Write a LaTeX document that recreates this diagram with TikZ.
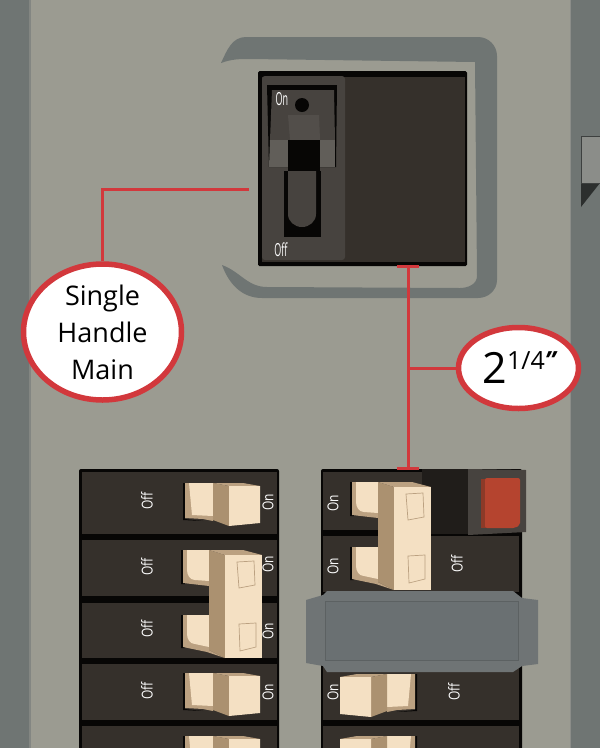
\documentclass[tikz,border=0pt]{standalone}
\usepackage{fontspec}
\setmainfont{Open Sans}
\usetikzlibrary{shapes.geometric}

\definecolor{panelGray}{HTML}{9B9B91}
\definecolor{stripGray}{HTML}{6F7573}
\definecolor{boxGray}{HTML}{8B8D89}
\definecolor{breakerBrown}{HTML}{35302B}
\definecolor{padBrown}{HTML}{47433F}
\definecolor{padLight}{HTML}{615E59}
\definecolor{nearBlack}{HTML}{070605}
\definecolor{creamFace}{HTML}{F4E0C3}
\definecolor{tanSide}{HTML}{AB9170}
\definecolor{tanEdge}{HTML}{BBA181}
\definecolor{calloutRed}{HTML}{D2383C}
\definecolor{lampRed}{HTML}{B5442F}
\definecolor{lampShade}{HTML}{8C3A28}
\definecolor{plateGray}{HTML}{6F7475}
\definecolor{plateInner}{HTML}{6A7072}
\definecolor{plateEdge}{HTML}{5C6162}

\tikzset{
  calloutline/.style={draw=calloutRed, line width=3pt},
  callout/.style={ellipse, draw=calloutRed, fill=white, line width=5.5pt, inner sep=0pt, align=center},
  breakerlabel/.style={text=white, font=\fontsize{15}{15}\selectfont, inner sep=0pt, rotate=90, xscale=.8},
  facelabel/.style={text=white, font=\fontsize{18}{18}\selectfont, inner sep=0pt, xscale=.5},
  singletoggle/.pic={
    \fill[nearBlack] (-2,0) -- (0,0) -- (0,36) -- (18,38) -- (-2,37) -- cycle;
    \fill[tanEdge] (0,0) -- (28,0) -- (28,38) -- (18,36) -- (0,35) -- cycle;
    \fill[creamFace] (4,0) -- (28,0) -- (28,33) -- (7,32) -- cycle;
    \fill[tanSide] (28,0) -- (44,3) -- (44,43) -- (28,37) -- cycle;
    \fill[tanEdge] (28,0) -- (58,0) -- (75,3) -- (44,3) -- cycle;
    \fill[creamFace] (44,3) -- (75,3) -- (75,40) -- (44,43) -- cycle;
  },
  doubletoggle/.pic={
    % tabs
    \fill[nearBlack] (-2,0) rectangle (2,34) (-2,65) rectangle (2,98);
    \fill[tanEdge] (0,0) -- (26,0) -- (26,36) -- (0,33) -- cycle;
    \fill[creamFace] (4,0) -- (26,0) -- (26,31) -- (12,30) to[out=180, in=-90] (4,20) -- cycle;
    \fill[tanEdge] (0,65) -- (26,65) -- (26,100) -- (42,108) -- (24,102) -- (0,97) -- cycle;
    \fill[creamFace] (4,65) -- (26,65) -- (26,97) -- (12,94) to[out=180, in=-90] (4,84) -- cycle;
    % body
    \fill[tanSide] (26,0) -- (42,5) -- (42,108) -- (26,100) -- cycle;
    \fill[tanEdge] (26,0) -- (60,0) -- (79,5) -- (42,5) -- cycle;
    \fill[creamFace] (42,5) -- (79,5) -- (79,108) -- (42,108) -- cycle;
    % windows
    \draw[tanEdge, line width=.7pt] (54,12) -- (71,11) -- (72,35) -- (56,38) -- cycle;
    \draw[tanEdge, line width=.7pt] (56,74) -- (73,73) -- (73,97) -- (57,101) -- cycle;
  },
}

\begin{document}
\begin{tikzpicture}[x=1pt, y=-1pt]

\useasboundingbox (0,0) rectangle (600,748);

% enclosure
\fill[panelGray] (0,0) rectangle (600,748);
\fill[stripGray] (0,0) rectangle (29,748);
\fill[stripGray] (571,0) rectangle (600,748);
\fill[boxGray!70!stripGray] (29,0) rectangle (31,748);
\fill[boxGray] (570,0) rectangle (571,748);

% latch on right edge
\fill[black!60!stripGray] (581,183) -- (600,183) -- (581,207) -- cycle;
\draw[fill=boxGray, draw=black!45!stripGray, line width=1pt] (600,136) -- (581,136) -- (581,183) -- (600,183);

% opening around main breaker
\fill[stripGray] (221,63) to[out=65, in=180] (246,37) -- (478,37) to[out=0, in=90] (497,56)
  -- (497,280) to[out=-90, in=0] (478,298) -- (262,298) to[out=180, in=-70] (222,265)
  to[out=-20, in=180] (267,287) -- (460,288) to[out=0, in=-90] (477,276)
  -- (475,62) -- (250,59) to[out=180, in=20] cycle;

% main breaker
\fill[nearBlack, rounded corners=1.5pt] (258,71) rectangle (467,266);
\fill[breakerBrown] (262,77) rectangle (465,262);
\fill[padBrown, rounded corners=3pt] (262,76) rectangle (345,260);
\fill[nearBlack] (267,85) -- (337,85) -- (336,167) -- (269,167) -- cycle;
\fill[padBrown] (272,90) -- (334,90) -- (335,140) -- (270,140) -- cycle;
\fill[padLight] (270,140) -- (288,140) -- (288,167) -- (269,167) -- cycle;
\fill[padLight] (320,140) -- (335,140) -- (335,167) -- (320,167) -- cycle;
\fill[padBrown!94!white] (288,115) -- (319,115) -- (320,140) -- (290,140) -- cycle;
\fill[nearBlack] (288,140) rectangle (320,171);
\fill[nearBlack] (284,171) rectangle (321,237);
\fill[padBrown] (288,171) -- (316,171) -- (316,214) to[out=-90, in=0] (302,227) to[out=180, in=-90] (288,214) -- cycle;
\fill[nearBlack] (302,105) circle[radius=7];
\node[facelabel] (mainOn) at (282,99) {On};
\node[facelabel] (mainOff) at (281,250) {Off};

% left column of breakers
\fill[nearBlack, rounded corners=2pt] (79,469) rectangle (279,760);
\foreach \top/\bot in {472/534, 540/596, 603/658, 664/720, 726/760}
  \fill[breakerBrown] (82,\top) rectangle (277,\bot);
\foreach \i/\offy/\ony in {1/501/502, 2/567/564, 3/629/631, 4/691/692}{
  \node[breakerlabel] (leftOff\i) at (147,\offy) {Off};
  \node[breakerlabel] (leftOn\i) at (268,\ony) {On};
}
\foreach \y in {483, 673, 736}
  \pic at (185,\y) {singletoggle};
\pic at (183,550) {doubletoggle};

% right column of breakers
\fill[nearBlack, rounded corners=2pt] (321,469) rectangle (522,760);
\foreach \top/\bot in {472/530, 536/592, 664/720, 726/760}
  \fill[breakerBrown] (323,\top) rectangle (519,\bot);
\foreach \i/\ony/\offx/\offy in {2/566/457/564, 4/692/454/692}{
  \node[breakerlabel] (rightOn\i) at (333,\ony) {On};
  \node[breakerlabel] (rightOff\i) at (\offx,\offy) {Off};
}
\node[breakerlabel] (rightOn1) at (333,503) {On};

% indicator block
\fill[black!40!breakerBrown] (422,469) rectangle (468,534);
\fill[padBrown] (468,469) -- (526,470) -- (526,532) -- (468,535) -- cycle;
\fill[lampShade] (481,479) rectangle (486,528);
\fill[lampRed, rounded corners=2pt] (485,478) -- (520,478) -- (520,525) -- (515,528) -- (485,528) -- cycle;

\pic at (352,482) {doubletoggle};

% blank plate
\fill[plateGray] (306,600) -- (323,595) -- (327,591) -- (513,591) -- (522,598) -- (538,600)
  -- (538,664) -- (522,666) -- (513,672) -- (327,672) -- (323,666) -- (306,663) -- cycle;
\draw[fill=plateInner, draw=plateEdge, line width=1pt] (325.5,601) rectangle (518,660);

\foreach \y in {674, 736}
  \pic[xscale=-1] at (415,\y) {singletoggle};

% callouts
\node[callout, minimum width=158pt, minimum height=136pt, font=\fontsize{27}{37}\selectfont] (mainCall) at (102.5,332) {Single\\Handle\\Main};
\node[callout, minimum width=120pt, minimum height=81pt] (sizeCall) at (518.5,368)
  {\hspace{3pt}\fontsize{43}{43}\selectfont 2\raisebox{14pt}{\fontsize{25}{25}\selectfont 1/4\textbf{\textit{"}}}};

\coordinate (mainEnd) at (249,189);
\coordinate (capTop) at (408,266);
\coordinate (capBot) at (408,468);
\coordinate (capMid) at (408,368);

\draw[calloutline] (mainCall.north) |- (mainEnd);
\draw[calloutline] (capTop) -- (capBot);
\draw[calloutline] (sizeCall.west) -- (capMid);
\draw[calloutline] (397,266) -- (419,266);
\draw[calloutline] (397,468) -- (419,468);

\end{tikzpicture}
\end{document}
